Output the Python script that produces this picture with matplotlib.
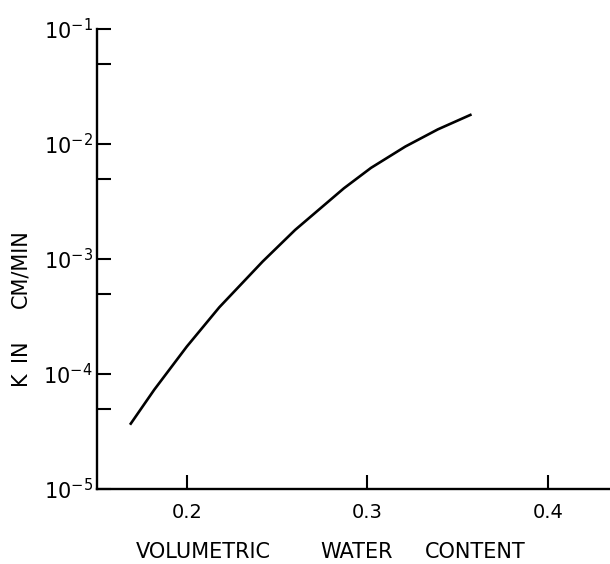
import numpy as np
import matplotlib
matplotlib.use("Agg")
import matplotlib.pyplot as plt
from matplotlib.ticker import LogLocator, NullFormatter, FixedLocator

plt.rcParams["axes.unicode_minus"] = False

# hydraulic conductivity vs volumetric water content
theta = [0.169, 0.182, 0.200, 0.218, 0.242, 0.260, 0.287, 0.302, 0.321, 0.339, 0.357]
K = [3.7e-5, 7.3e-5, 1.73e-4, 3.8e-4, 9.5e-4, 1.79e-3, 4.12e-3, 6.2e-3, 9.5e-3, 1.34e-2, 1.79e-2]

xticks = [0.2, 0.3, 0.4]
xtick_labels = ["0.2", "0.3", "0.4"]

fig = plt.figure(figsize=(6.10, 5.64), dpi=100)
ax = fig.add_axes([0.159, 0.133, 0.841, 0.8156])

ax.plot(theta, K, color="black", lw=1.9, solid_joinstyle="round")

ax.set_yscale("log")
ax.set_ylim(1e-5, 1e-1)
ax.set_xlim(0.1503, 0.4343)

ax.xaxis.set_major_locator(FixedLocator(xticks))
ax.set_xticklabels(xtick_labels)
ax.yaxis.set_major_locator(LogLocator(base=10, numticks=10))
ax.yaxis.set_minor_locator(LogLocator(base=10, subs=[5.0], numticks=10))
ax.yaxis.set_minor_formatter(NullFormatter())

for s in ["top", "right"]:
    ax.spines[s].set_visible(False)
for s in ["left", "bottom"]:
    ax.spines[s].set_linewidth(1.7)

ax.tick_params(axis="both", which="both", direction="in", width=1.5, length=10)
ax.tick_params(axis="y", which="major", labelsize=15, pad=3)
ax.tick_params(axis="x", which="major", labelsize=14, pad=10)

# axis titles, word by word
for word, xc in [("VOLUMETRIC", 203), ("WATER", 357), ("CONTENT", 475)]:
    fig.text(xc / 610, 1 - 552 / 564, word, fontsize=15, ha="center", va="center")
for word, yc in [("K", 378), ("IN", 350), ("CM/MIN", 269)]:
    fig.text(20 / 610, 1 - yc / 564, word, fontsize=15, ha="center", va="center",
             rotation=90)

fig.savefig("out.png", dpi=100)
